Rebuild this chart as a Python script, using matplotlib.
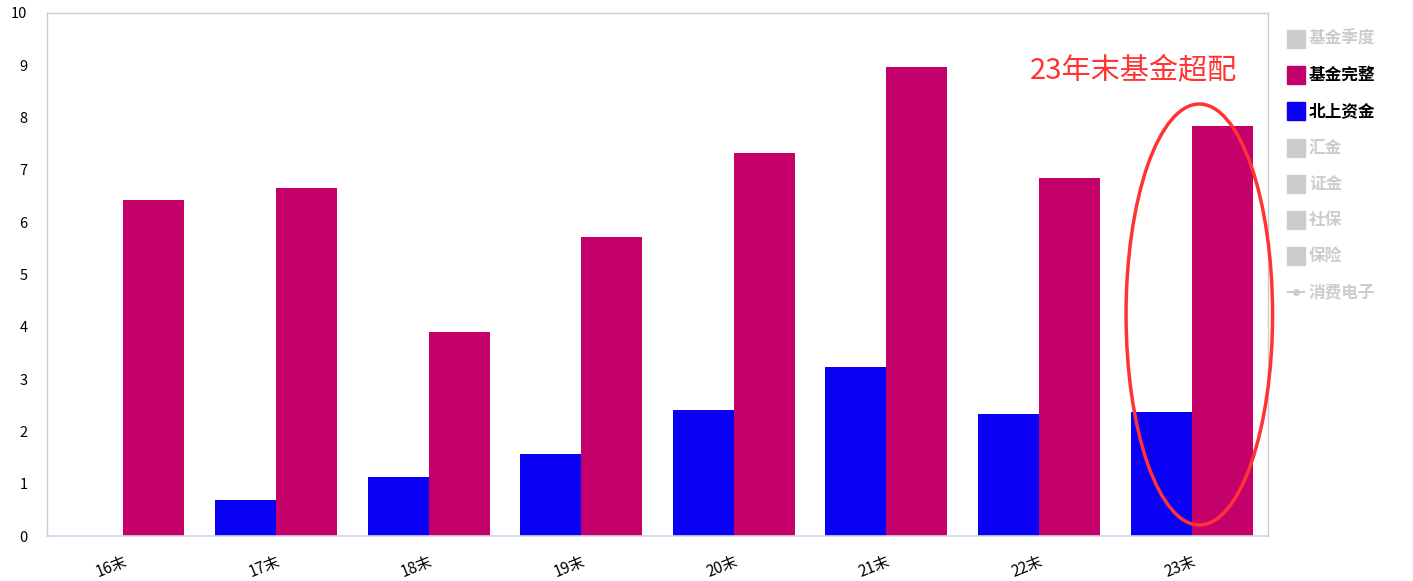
import matplotlib
matplotlib.use("Agg")
import matplotlib.pyplot as plt
from matplotlib.patches import Ellipse, Rectangle
from matplotlib.lines import Line2D
import numpy as np

plt.rcParams['font.family'] = ['Noto Sans CJK SC', 'DejaVu Sans']

categories = ['16末', '17末', '18末', '19末', '20末', '21末', '22末', '23末']
north_funds = [0.0, 0.69, 1.13, 1.57, 2.41, 3.23, 2.33, 2.37]
fund_full = [6.42, 6.65, 3.90, 5.72, 7.32, 8.97, 6.85, 7.84]
legend_items = ['基金季度', '基金完整', '北上资金', '汇金', '证金', '社保', '保险', '消费电子']
legend_active = [False, True, True, False, False, False, False, False]
annotation = '23年末基金超配'

W, H = 1413, 581
fig = plt.figure(figsize=(W / 100, H / 100), dpi=100)
ax = fig.add_axes([47 / W, 1 - 536 / H, (1268 - 47) / W, (536 - 13) / H])

x = np.arange(len(categories))
bw = 0.4
c_blue = '#0A00F5'
c_mag = '#C4006A'
ax.bar(x - bw / 2, north_funds, width=bw, color=c_blue, zorder=2)
ax.bar(x + bw / 2, fund_full, width=bw, color=c_mag, zorder=2)

ax.set_xlim(-0.5, len(categories) - 0.5)
ax.set_ylim(0, 10)
ax.set_yticks(range(0, 11))
ax.tick_params(axis='y', length=0, labelsize=10.5, pad=14, colors='black')
ax.set_xticks(x)
ax.set_xticklabels(categories, rotation=22, ha='right', rotation_mode='anchor', fontsize=11)
ax.tick_params(axis='x', length=0, pad=12)
for s in ['top', 'right', 'left']:
    ax.spines[s].set_color('#cccccc')
    ax.spines[s].set_linewidth(1)
ax.spines['bottom'].set_color('#ccd6eb')
ax.spines['bottom'].set_linewidth(1.2)

# ellipse highlight on 23末
ell = Ellipse((7.05, 4.235), width=0.96, height=8.05, fill=False, edgecolor='#FF3333',
              linewidth=2.5, zorder=3, clip_on=False)
ax.add_patch(ell)
ax.text(6.62, 8.9, annotation, color='#FF3333', fontsize=21, ha='center', va='center', zorder=4)

# legend on the right (figure coordinates)
y0 = 39
step = 36.2
for i, (name, act) in enumerate(zip(legend_items, legend_active)):
    yc = y0 + i * step
    col_t = 'black' if act else '#cccccc'
    if i == len(legend_items) - 1:
        fig.add_artist(Line2D([1288 / W, 1304 / W], [1 - yc / H, 1 - yc / H], color='#cccccc', lw=1.5))
        fig.add_artist(Line2D([1296 / W], [1 - yc / H], marker='o', color='#cccccc', markersize=4))
    else:
        col_p = '#cccccc'
        if act:
            col_p = c_mag if name == '基金完整' else c_blue
        fig.add_artist(Rectangle((1287 / W, 1 - (yc + 9) / H), 18 / W, 18 / H, color=col_p, transform=fig.transFigure))
    fig.text(1309 / W, 1 - yc / H, name, color=col_t, fontsize=12, fontweight='bold', va='center', ha='left')

fig.savefig('out.png', dpi=100, facecolor='white')
